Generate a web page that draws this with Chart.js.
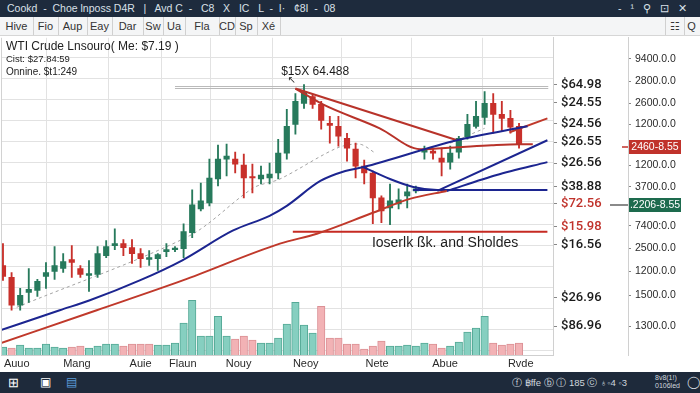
<!DOCTYPE html>
<html>
<head>
<meta charset="utf-8">
<script src="https://cdn.jsdelivr.net/npm/chart.js@4.4.1/dist/chart.umd.min.js"></script>
<style>
  body { margin:0; width:700px; height:393px; overflow:hidden; background:#fff; position:relative; font-family:'Liberation Sans', Arial, sans-serif; }
  #titlebar { position:absolute; left:0; top:0; width:700px; height:17px; background:#1e2b3d; color:#d9e0e8; font-size:10.5px; line-height:17px; white-space:pre; }
  #titlebar .t { position:absolute; left:7px; }
  #titlebar .ic { position:absolute; right:4px; letter-spacing:9px; }
  #tabs { position:absolute; left:0; top:17px; width:700px; height:18px; background:#f4f5f6; border-bottom:1px solid #d6d6d6; font-size:11px; color:#333; }
  #tabs span { position:absolute; top:0; height:18px; line-height:18px; text-align:center; border-right:1px solid #d0d0d0; }
  #chartbox { position:absolute; left:0; top:26px; }
  .info { position:absolute; left:6px; color:#222; white-space:pre; }
  #taskbar { position:absolute; left:0; top:372px; width:700px; height:21px; background:#1e2a3b; color:#cfd6de; font-size:9.5px; }
  #taskbar span { position:absolute; top:0; line-height:21px; white-space:pre; }
</style>
</head>
<body>
<div id="titlebar"><span class="t">Cookd  -  Choe lnposs D4R   |   Avd C  -   C8   X   IC   L  -  I·   ¢8I  -  08</span><span class="ic">-¹⚲⊡✕</span></div>
<div id="tabs">
  <span style="left:0;width:33px">Hive</span>
  <span style="left:33px;width:25px">Fio</span>
  <span style="left:58px;width:29px">Aup</span>
  <span style="left:87px;width:25px">Eay</span>
  <span style="left:112px;width:31px">Dar</span>
  <span style="left:143px;width:20px">Sw</span>
  <span style="left:163px;width:22px">Ua</span>
  <span style="left:185px;width:34px">Fla</span>
  <span style="left:219px;width:16px">CD</span>
  <span style="left:235px;width:22px">Sp</span>
  <span style="left:257px;width:23px">Xé</span>
  <span style="left:665px;width:18px;border-left:1px solid #d0d0d0">☷</span>
  <span style="left:683px;width:17px;border-right:none">Q</span>
</div>
<div id="chartbox"><canvas id="chart" width="700" height="346"></canvas></div>
<div class="info" style="top:39px;font-size:12px">WTI Crude Lnsouro( Me: $7.19 )</div>
<div class="info" style="top:53px;font-size:9.5px">Cist: $27.84:59</div>
<div class="info" style="top:66px;font-size:10px">Onnine. $t1:249</div>
<div id="taskbar">
  <span style="left:8px;font-size:13px;color:#fff">⊞</span>
  <span style="left:40px;font-size:12px;color:#fff">▣</span>
  <span style="left:66px;font-size:12px;color:#5b9bd8">▤</span>
  <span style="left:512px">ⓕ ฿ffe ⓑ ⓘ 185 ⓒ ♁◦4 ◦3</span>
  <span style="left:655px;font-size:7px;line-height:8px;top:2px">8v8(1!)<br>0106led</span>
  <span style="left:687px;font-size:12px">◯</span>
</div>
<script>
// candles (index = trading day)
const opens  = [38.0,35.6,30.0,32.6,33.0,35.8,36.8,37.4,39.2,37.4,36.0,36.2,40.0,42.0,42.4,41.6,40.4,39.2,39.4,40.8,
                41.2,41.4,44.6,49.4,50.6,55.4,59.4,59.4,58.2,55.8,55.4,55.6,56.6,60.6,66.4,70.6,72.0,70.4,66.6,66.0,
                63.6,61.4,58.0,56.6,51.6,49.6,50.4,52.0,53.0,60.8,61.0,59.6,58.8,60.8,63.8,66.0,67.8,70.6,68.4,67.6,66.0];
const highs  = [42.4,36.6,33.4,37.4,35.2,38.6,41.8,40.4,42.0,38.0,39.0,41.8,43.0,45.4,43.2,43.2,41.4,41.0,40.4,42.4,
                41.8,46.4,53.2,54.6,59.4,62.2,62.4,60.8,60.4,58.4,58.0,58.6,63.4,69.4,72.6,74.4,72.4,71.0,68.0,68.0,
                64.6,62.6,59.2,57.0,52.0,54.4,53.4,54.4,54.0,62.0,61.6,61.6,62.0,64.0,68.4,71.0,73.0,72.6,71.0,69.2,66.6];
const lows   = [35.0,29.0,29.0,30.6,31.8,33.4,35.2,36.6,35.6,35.6,32.8,35.6,39.6,41.2,40.0,38.4,37.6,38.0,37.0,39.8,
                40.8,39.6,43.6,49.0,50.0,54.0,56.0,56.6,51.6,52.6,54.4,54.4,55.4,59.4,64.4,69.6,69.6,65.4,62.6,62.0,
                59.0,55.6,54.4,46.4,46.6,46.2,49.4,49.6,52.6,59.4,59.4,56.0,57.4,59.6,63.4,65.6,66.4,64.6,65.0,64.6,61.6];
const closes = [35.8,30.0,32.0,33.2,34.8,36.6,38.0,38.8,38.6,36.2,36.4,40.4,41.8,42.4,41.6,40.4,39.4,39.6,40.2,41.2,
                41.4,44.8,50.2,51.0,55.6,59.4,60.0,58.4,55.6,55.6,56.2,56.4,60.6,66.0,71.0,73.0,70.4,67.2,66.2,64.0,
                61.6,58.0,56.6,51.6,49.0,51.0,51.2,52.8,53.4,61.2,60.6,58.8,60.6,63.6,66.4,68.0,70.6,68.4,67.6,65.8,62.4];
// volume and its colour (1 = up, 0 = down)
const volumes = [80,70,100,70,70,110,80,70,80,90,70,90,110,110,90,110,110,110,100,100,
                 120,320,550,190,190,390,190,160,190,150,120,120,170,310,530,300,220,490,170,170,
                 110,110,60,90,140,90,90,100,90,120,110,70,90,130,230,270,390,120,100,110,120];
const volUp   = [1,0,1,1,1,1,1,1,0,0,1,1,1,1,0,0,0,0,1,1,
                 1,1,1,1,1,1,1,0,0,0,1,1,1,1,1,1,1,0,0,0,
                 0,0,0,0,0,1,1,1,1,1,0,0,1,1,1,1,1,0,0,0,0];

// overlay lines [day, price]
const blueLong   = [[-0.23,25.0],[6.6,29.0],[10.1,31.0],[15.9,35.0],[20.8,39.0],[26.7,45.0],[31.0,48.0],[33.0,50.0],
                    [36.9,55.0],[39.8,57.0],[41.9,57.8],[52.8,63.2],[61.0,66.0]];
const redLong    = [[-0.23,22.4],[10.9,29.0],[20.9,35.0],[32.2,42.4],[36.5,44.4],[42.7,48.4],[47.3,51.4],[51.6,53.0]];
const blueDip    = [[41.9,57.8],[45.0,55.4],[47.7,53.8],[50.5,53.2],[52.3,53.2]];
const blueFlat   = [[47.7,53.2],[63.3,53.2]];
const blueUpper  = [[50.5,53.0],[63.3,63.2]];
const blueLower  = [[51.6,53.0],[57.4,56.2],[63.3,58.8]];
const redStraight= [[34.0,73.6],[52.8,63.2]];
const redCurve   = [[34.0,73.6],[37.2,70.4],[43.8,65.6],[48.5,61.4],[52.8,61.8],[56.8,62.2],[60.1,62.4],[61.6,62.4]];
const redShort   = [[58.9,64.8],[63.3,67.6]];
const redFloor   = [[33.7,44.8],[63.3,44.8]];
const grayTopA   = [[20.0,74.0],[63.4,74.0]];
const grayTopB   = [[20.0,73.6],[63.4,73.6]];
const dashedA    = [[1.6,29.6],[21.7,44.0],[29.1,53.6],[32.2,55.4],[38.8,61.6],[41.5,62.4],[43.3,60.6]];
const dashedB    = [[52.0,62.6],[56.0,65.6]];

// axes labels
const monthTickPos = [1.6,8.6,16.0,20.9,27.4,35.2,43.5,51.4,60.2];
const monthLabels  = ['Auuo','Mang','Auie','Flaun','Nouy','Neoy','Nete','Abue','Rvde'];
const priceTickLevels = [74.4,70.8,66.6,62.8,58.6,53.8,50.4,45.8,42.2,31.6,25.8];
const priceTickLabels = ['$64.98','$24.55','$24.56','$26.55','$26.56','$38.88','$72.56','$15.98','$16.56','$26.96','$86.96'];
const priceTickRed    = [0,0,0,0,0,0,1,1,0,0,0];
const sideTickLevels  = [79.6,75.0,70.6,66.4,58.2,53.8,46.0,41.4,36.8,32.0,25.8];
const sideTickLabels  = ['9400.0.0','2800.0.0','2600.0.0','1200.0.0','1200.0.0','3700.0.0','7400:0.0','2500.0.0','1200.0.0','1500.0.0','1300.0.0'];

// notes and badges
const peakNote = '$15X 64.488', peakNoteAt = [36.3, 77.0];
const arrowAt = [33.6, 75.2];
const floorNote = 'Ioserlk ßk. and Sholdes', floorNoteAt = [51.4, 42.4];
const badgeLabels = ['2460-8.55', '.2206-8.55'];
const badgeLevels = [61.8, 50.2];
const badgeColors = ['#c0322b', '#1d6b4e'];

const UP = '#277a5c', DOWN = '#c8302b';
const pts = a => a.map(([x, y]) => ({x, y}));
const line = (data, color, extra) => Object.assign({
  type: 'line', data: pts(data), borderColor: color, borderWidth: 2, pointRadius: 0,
  fill: false, tension: 0, order: 1
}, extra || {});

const overlay = {
  id: 'overlay',
  afterDraw(chart) {
    const {ctx, chartArea, scales: {x, y, y2}} = chart;
    ctx.save();
    ctx.strokeStyle = '#d2d2d2';
    ctx.lineWidth = 1;
    ctx.beginPath();
    ctx.moveTo(chartArea.left + 0.5, chartArea.top);
    ctx.lineTo(chartArea.left + 0.5, chartArea.bottom);
    ctx.stroke();

    ctx.fillStyle = '#1c1c1c';
    ctx.textAlign = 'center';
    ctx.textBaseline = 'middle';
    ctx.font = '12px "Liberation Sans"';
    ctx.fillText(peakNote, x.getPixelForValue(peakNoteAt[0]), y.getPixelForValue(peakNoteAt[1]));
    ctx.font = '10px "DejaVu Sans"';
    ctx.fillText('↖', x.getPixelForValue(arrowAt[0]), y.getPixelForValue(arrowAt[1]));
    ctx.font = '14px "Liberation Sans"';
    ctx.fillText(floorNote, x.getPixelForValue(floorNoteAt[0]), y.getPixelForValue(floorNoteAt[1]));

    badgeLevels.forEach((v, i) => {
      const py = Math.round(y.getPixelForValue(v));
      ctx.strokeStyle = i === 0 ? badgeColors[0] : '#8a8a8a';
      ctx.lineWidth = i === 0 ? 1.5 : 2;
      ctx.beginPath();
      ctx.moveTo(i === 0 ? y2.left - 6 : y2.left - 18, py);
      ctx.lineTo(y2.left, py);
      ctx.stroke();
      ctx.fillStyle = badgeColors[i];
      ctx.fillRect(y2.left + 1, py - 7, 52, 14);
      ctx.fillStyle = '#fff';
      ctx.font = '10.5px "Liberation Sans"';
      ctx.textAlign = 'center';
      ctx.fillText(badgeLabels[i], y2.left + 27, py + 0.5);
    });
    ctx.restore();
  }
};

new Chart(document.getElementById('chart'), {
  type: 'bar',
  data: {
    datasets: [
      { label: 'Volume', yAxisID: 'vol', grouped: false, order: 10, barThickness: 7.5,
        data: volumes.map((v, i) => ({x: i, y: v})),
        backgroundColor: volUp.map(u => u ? '#86cfc0' : '#f2b2b5'),
        borderColor: volUp.map(u => u ? '#55a996' : '#db9095'), borderWidth: 1 },
      line(dashedA, '#a3a3a3', {borderWidth: 1, borderDash: [3, 3], order: 9, tension: 0.3}),
      line(dashedB, '#a3a3a3', {borderWidth: 1, borderDash: [3, 3], order: 9}),
      line(grayTopA, '#b9b9b9', {borderWidth: 1, order: 9}),
      line(grayTopB, '#b9b9b9', {borderWidth: 1, order: 9}),
      { label: 'Wick', grouped: false, order: 6, barThickness: 1.2,
        data: lows.map((l, i) => ({x: i, y: [l, highs[i]]})),
        backgroundColor: closes.map((c, i) => c >= opens[i] ? UP : DOWN) },
      { label: 'Body', grouped: false, order: 5, barThickness: 5.5, minBarLength: 1.5,
        data: opens.map((o, i) => ({x: i, y: [o, closes[i]]})),
        backgroundColor: closes.map((c, i) => c >= opens[i] ? UP : DOWN) },
      line(blueLong, '#1c2590', {cubicInterpolationMode: 'monotone'}),
      line(redLong, '#c0392b', {cubicInterpolationMode: 'monotone'}),
      line(blueDip, '#1c2590', {cubicInterpolationMode: 'monotone'}),
      line(blueFlat, '#1c2590'),
      line(blueUpper, '#1c2590'),
      line(blueLower, '#1c2590', {tension: 0.3}),
      line(redStraight, '#b8332a'),
      line(redCurve, '#b8332a', {cubicInterpolationMode: 'monotone'}),
      line(redShort, '#c0392b'),
      line(redFloor, '#c62a22')
    ]
  },
  options: {
    responsive: false,
    animation: false,
    layout: { padding: { left: 1, top: 10, right: 0, bottom: 0 } },
    plugins: { legend: { display: false }, tooltip: { enabled: false } },
    scales: {
      x: {
        type: 'linear', min: -0.23, max: 63.95, offset: false,
        afterBuildTicks: s => { s.ticks = monthTickPos.map(v => ({value: v})); },
        afterFit: s => { s.height = 17; },
        ticks: { autoSkip: false, maxRotation: 0, padding: 2, color: '#2a2a2a',
                 font: { family: 'Liberation Sans', size: 11 },
                 callback: (v, i) => monthLabels[i] },
        grid: { color: '#e2e2e2', drawTicks: false },
        border: { color: '#cfcfcf' }
      },
      yGrid: {
        position: 'left', min: 20, max: 83.8,
        ticks: { display: false, stepSize: 4.2, includeBounds: false },
        grid: { color: '#e2e2e2', drawTicks: false },
        border: { display: false },
        afterFit: s => { s.width = 0; }
      },
      vol: { display: false, min: 0, max: 3190 },
      y: {
        position: 'right', weight: 0, min: 20, max: 83.8,
        afterBuildTicks: s => { s.ticks = priceTickLevels.map(v => ({value: v})); },
        afterFit: s => { s.width = 75; },
        ticks: { autoSkip: false, padding: 4,
                 color: c => priceTickRed[c.index] ? '#c0322b' : '#1a1a1a',
                 font: { family: 'Roboto', size: 13, weight: '500' },
                 callback: (v, i) => priceTickLabels[i] },
        grid: { drawOnChartArea: false, drawTicks: true, tickLength: 4, color: '#888' },
        border: { color: '#d0d0d0' }
      },
      y2: {
        position: 'right', weight: 1, min: 20, max: 83.8,
        afterBuildTicks: s => { s.ticks = sideTickLevels.map(v => ({value: v})); },
        afterFit: s => { s.width = 72; },
        ticks: { autoSkip: false, padding: 4, color: '#2a2a2a',
                 font: { family: 'Liberation Sans', size: 10.5 },
                 callback: (v, i) => sideTickLabels[i] },
        grid: { drawOnChartArea: false, drawTicks: true, tickLength: 3, color: '#888' },
        border: { color: '#d0d0d0' }
      }
    }
  },
  plugins: [overlay]
});
</script>
</body>
</html>
